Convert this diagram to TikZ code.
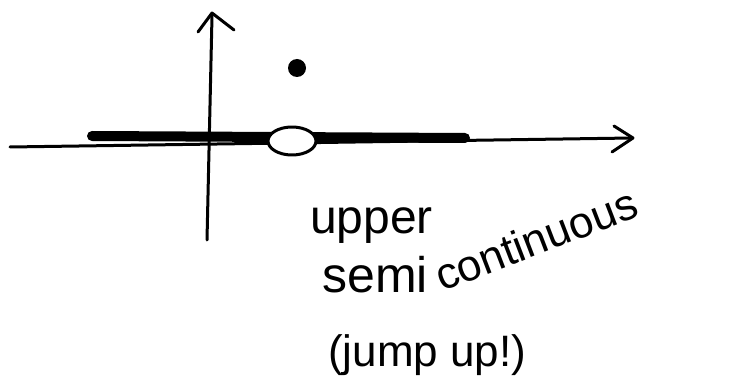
\documentclass[tikz,border=0pt]{standalone}
\usepackage{fontspec}
\setmainfont{Liberation Sans}
\begin{document}
\begin{tikzpicture}[x=1pt,y=-1pt,
  pen/.style={line width=3pt, line cap=round, line join=round},
  hand/.style={font=\fontsize{44}{44}\selectfont, inner sep=0pt, anchor=base west}]
\useasboundingbox (0,0) rectangle (742,390);
% thick band
\draw[line width=10pt, line cap=round] (92,136) -- (465,138);
% horizontal axis
\draw[pen] (10,147) -- (632,138);
\draw[pen] (614,126) -- (633,138) -- (612,152);
% vertical axis
\draw[pen] (207,240) -- (212,16);
\draw[pen] (198,32) -- (212,13) -- (234,30);
% open circle
\draw[pen, fill=white] (292,141) ellipse (24 and 14);
% filled dot
\fill (297,68) circle (9);
% text
\node[hand, font=\fontsize{48}{48}\selectfont] (up) at (310,234) {upper};
\node[hand, font=\fontsize{50}{50}\selectfont] (semi) at (322,292) {semi};
\node[hand, rotate=21] (cont) at (442,292) {continuous};
\node[hand] (jump) at (328,366) {(jump up!)};
\end{tikzpicture}
\end{document}
